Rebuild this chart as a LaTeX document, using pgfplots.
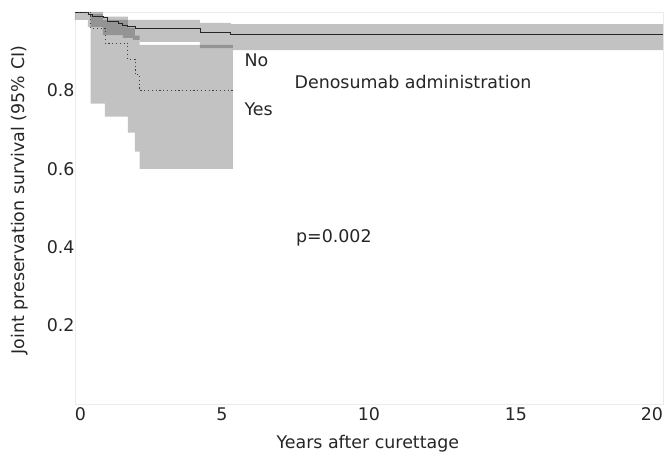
\documentclass[border=0pt]{standalone}
\usepackage{fontspec}
\setmainfont{DejaVu Sans}
\usepackage{pgfplots}
\pgfplotsset{compat=1.18}
\begin{document}
\begin{tikzpicture}
\begin{axis}[
  scale only axis, width=588bp, height=392bp,
  xmin=0, xmax=20, ymin=0, ymax=1,
  xtick={0,5,10,15,20},
  xticklabels={\makebox[0pt][l]{0},5,10,15,\makebox[0pt][r]{20}},
  ytick={0.2,0.4,0.6,0.8},
  major tick length=0pt,
  axis line style={draw=black!8},
  font=\fontsize{17.5}{20}\selectfont,
  /pgf/number format/assume math mode=true,
  tick label style={font=\fontsize{17.5}{20}\selectfont, text=black!85},
  yticklabel style={xshift=3bp},
  xlabel={Years after curettage},
  ylabel={Joint preservation survival (95\% CI)},
  xlabel style={at={(axis description cs:0.498,-0.102)}, anchor=center, text=black!85},
  ylabel style={at={(axis description cs:-0.0935,0.52)}, anchor=center, text=black!85},
  clip=true,
]
% No group 95% CI band
\addplot[draw=none, fill=black, fill opacity=0.24] coordinates {
 (0,1.0)(0.95,1.0)(0.95,0.988)(1.80,0.988)(1.80,0.980)(4.25,0.980)(4.25,0.972)(5.30,0.972)(5.30,0.969)(20,0.969)
 (20,0.903)(5.37,0.903)(5.37,0.908)(4.25,0.908)(4.25,0.924)(2.21,0.924)(2.21,0.929)(1.97,0.929)(1.97,0.934)(1.63,0.934)(1.63,0.941)(0.95,0.941)(0.95,0.962)(0.44,0.962)(0.44,0.98)(0,0.98)
} -- cycle;
% Yes group 95% CI band
\addplot[draw=none, fill=black, fill opacity=0.24] coordinates {
 (0.53,0.995)(0.95,0.995)(0.95,0.980)(1.80,0.980)(1.80,0.960)(2.04,0.960)(2.04,0.94)(2.20,0.94)(2.20,0.916)(5.37,0.916)
 (5.37,0.60)(2.20,0.60)(2.20,0.644)(2.04,0.644)(2.04,0.692)(1.80,0.692)(1.80,0.733)(1.02,0.733)(1.02,0.766)(0.53,0.766)
} -- cycle;
% No group survival
\addplot[const plot, black!85, line width=0.8pt] coordinates {
 (0,1.0)(0.44,0.995)(0.58,0.990)(0.95,0.985)(1.09,0.977)(1.46,0.972)(1.60,0.967)(1.77,0.962)(2.04,0.959)(2.48,0.957)(4.25,0.949)(5.27,0.944)(20,0.944)
};
% Yes group survival
\addplot[const plot, black!75, line width=0.9pt, dash pattern=on 1.2pt off 2.6pt] coordinates {
 (0,1.0)(0.53,0.959)(1.02,0.921)(1.80,0.880)(2.04,0.84)(2.20,0.80)(5.37,0.80)
};
\node[anchor=west, text=black!85] at (axis cs:5.65,0.876) {No};
\node[anchor=west, text=black!85] at (axis cs:5.65,0.752) {Yes};
\node[anchor=west, text=black!85] at (axis cs:7.35,0.822) {Denosumab administration};
\node[anchor=west, text=black!85] at (axis cs:7.40,0.425) {p=0.002};
\end{axis}
\pgfresetboundingbox
\path[use as bounding box] ([xshift=-75bp,yshift=-53bp]current axis.south west) rectangle ([xshift=1bp,yshift=12bp]current axis.north east);
\end{tikzpicture}
\end{document}
